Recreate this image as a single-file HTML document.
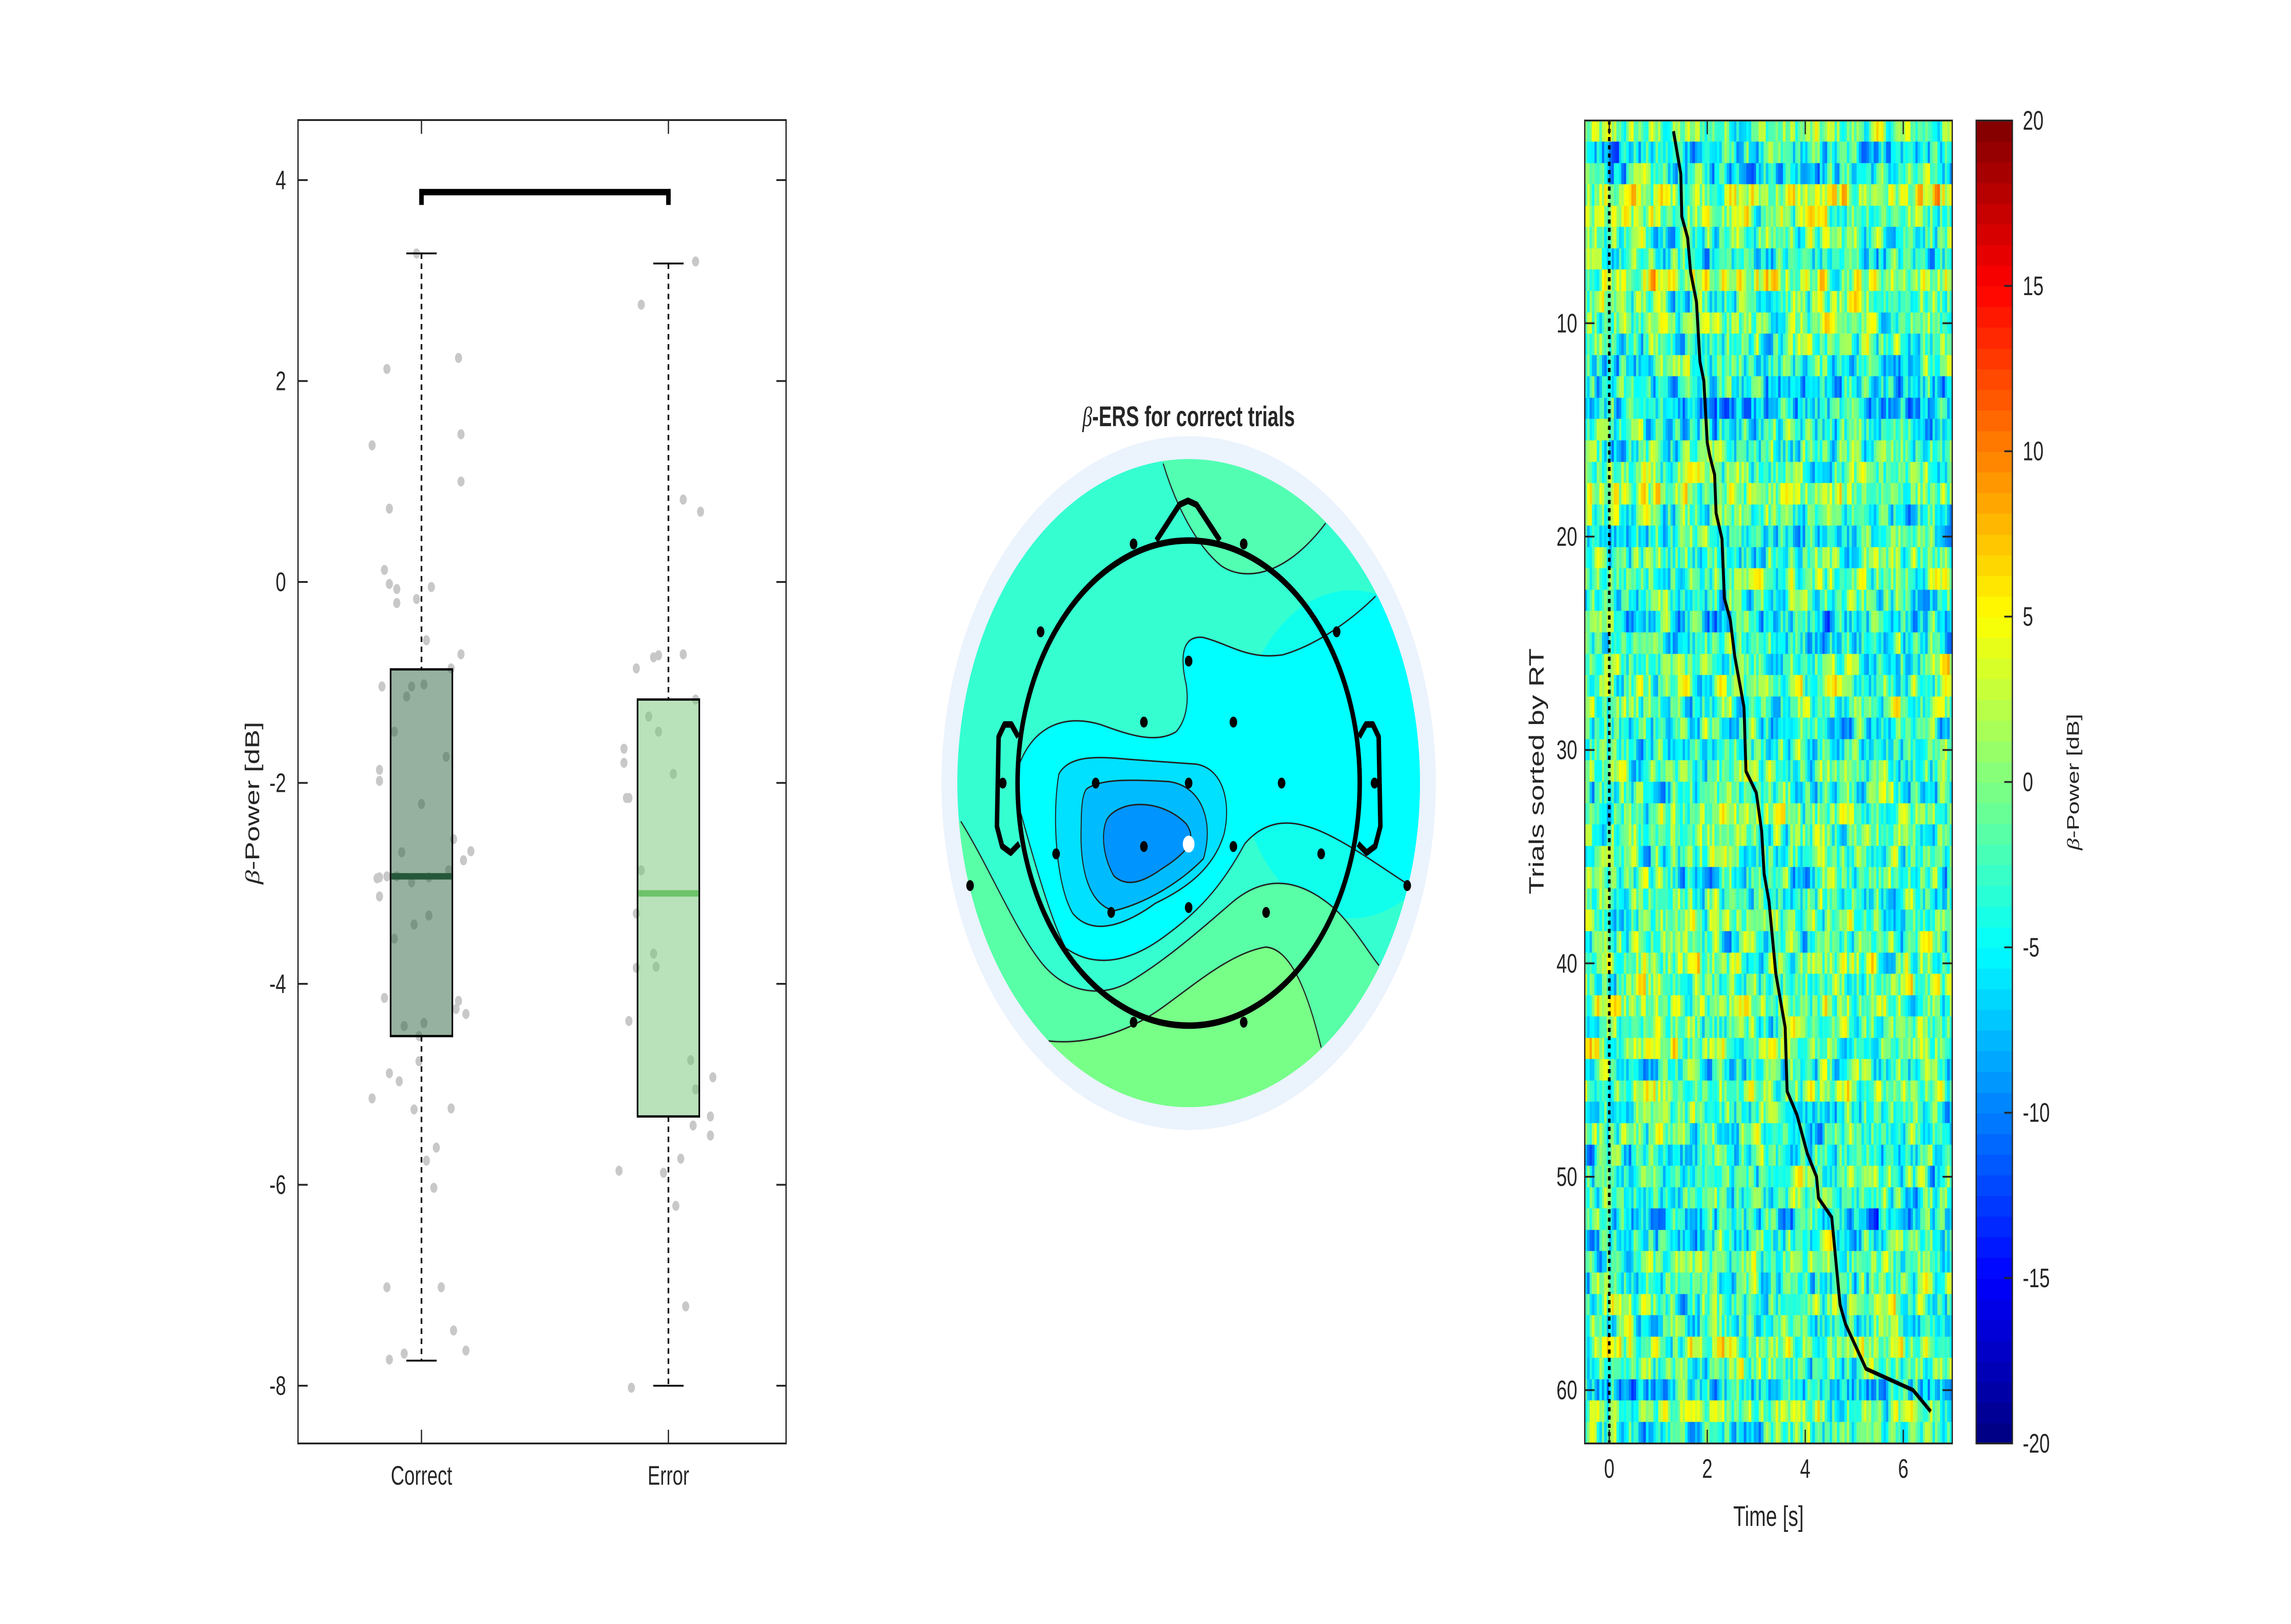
<!DOCTYPE html>
<html><head><meta charset="utf-8"><style>
html,body{margin:0;padding:0;background:#fff;width:100%;height:100%;overflow:hidden;}
#wrap{position:relative;width:100vw;height:100vh;overflow:hidden;background:#fff;}
canvas,svg{position:absolute;left:0;top:0;width:100%;height:100%;}
text{font-family:"Liberation Sans",sans-serif;fill:#262626;}
</style></head><body>
<div id="wrap">
<canvas id="heat" width="7088" height="3544"></canvas>
<svg id="fig" viewBox="0 0 7088 3544" preserveAspectRatio="none" xmlns="http://www.w3.org/2000/svg">
  <defs>
    <clipPath id="diskClip"><ellipse cx="777" cy="838" rx="672" ry="652"/></clipPath>
  </defs>
  <g id="box-panel"></g>
  <g id="topo" transform="translate(2850,800) scale(1.065,1.0846)">
    <ellipse cx="777" cy="838" rx="718" ry="698" fill="#ebf3fd"/>
    <g clip-path="url(#diskClip)">
      <rect x="0" y="0" width="1600" height="1700" fill="#35ffd0"/>
      <ellipse cx="1250" cy="780" rx="330" ry="330" fill="#10ffec"/>
      <path d="M703,195 C740,280 800,360 870,400 C930,430 1050,430 1175,315 L1500,100 L700,100 Z" fill="#52ffb2"/>
      <path d="M1320,462 C1250,510 1150,560 1050,580 C950,590 900,560 820,545 C760,540 750,580 770,640 C780,690 760,720 740,735 C680,760 600,740 520,720 C420,700 330,720 285,800 L290,900 C330,1000 380,1120 420,1170 C500,1210 600,1200 700,1150 C800,1100 870,1050 940,960 C990,920 1050,910 1120,925 C1200,940 1300,990 1410,1040 L1500,900 L1500,500 Z" fill="#00ffff"/>
      <path d="M400,820 C430,780 520,785 600,790 L800,800 C880,810 900,880 880,940 C850,1010 770,1050 680,1080 C600,1120 500,1150 440,1100 C390,1040 380,900 400,820Z" fill="#00e0ff"/>
      <path d="M480,850 C520,830 600,830 720,835 C820,845 850,920 820,990 C750,1040 650,1080 560,1095 C480,1080 460,1000 465,920 C465,880 470,860 480,850Z" fill="#00bcff"/>
      <path d="M540,910 C580,870 700,870 770,920 C800,950 780,975 700,1010 C650,1035 600,1050 560,1025 C530,990 520,940 540,910Z" fill="#0094ff"/>
      <path d="M115,915 C200,1010 270,1130 350,1200 C420,1260 520,1270 600,1240 C700,1200 800,1140 900,1080 C1000,1020 1100,1030 1200,1090 C1260,1130 1300,1180 1330,1205 L1500,1500 L0,1700 L0,900 Z" fill="#58ffa6"/>
      <path d="M370,1357 C480,1365 600,1340 700,1290 C800,1240 900,1180 1000,1168 C1070,1170 1120,1250 1162,1370 L1200,1700 L300,1700 Z" fill="#78ff88"/>
      <g fill="none" stroke="#222" stroke-width="3">
        <path d="M703,195 C740,280 800,360 870,400 C930,430 1050,430 1175,315"/>
        <path d="M1320,462 C1250,510 1150,560 1050,580 C950,590 900,560 820,545 C760,540 750,580 770,640 C780,690 760,720 740,735 C680,760 600,740 520,720 C420,700 330,720 285,800"/>
        <path d="M400,820 C430,780 520,785 600,790 L800,800 C880,810 900,880 880,940 C850,1010 770,1050 680,1080 C600,1120 500,1150 440,1100 C390,1040 380,900 400,820Z"/>
        <path d="M480,850 C520,830 600,830 720,835 C820,845 850,920 820,990 C750,1040 650,1080 560,1095 C480,1080 460,1000 465,920 C465,880 470,860 480,850Z"/>
        <path d="M540,910 C580,870 700,870 770,920 C800,950 780,975 700,1010 C650,1035 600,1050 560,1025 C530,990 520,940 540,910Z"/>
        <path d="M290,900 C330,1000 380,1120 420,1170 C500,1210 600,1200 700,1150 C800,1100 870,1050 940,960 C990,920 1050,910 1120,925 C1200,940 1300,990 1410,1040"/>
        <path d="M115,915 C200,1010 270,1130 350,1200 C420,1260 520,1270 600,1240 C700,1200 800,1140 900,1080 C1000,1020 1100,1030 1200,1090 C1260,1130 1300,1180 1330,1205"/>
        <path d="M370,1357 C480,1365 600,1340 700,1290 C800,1240 900,1180 1000,1168 C1070,1170 1120,1250 1162,1370"/>
      </g>
    </g>
    <g fill="none" stroke="#000" stroke-width="13" stroke-linejoin="round">
      <ellipse cx="777" cy="838" rx="497" ry="488"/>
      <path d="M683,350 L750,278 L775,270 L800,278 L868,350"/>
      <path d="M282,745 L262,720 L242,720 L225,745 L220,925 L235,965 L260,978 L285,960"/>
      <path d="M1272,745 L1292,720 L1312,720 L1329,745 L1334,925 L1319,965 L1294,978 L1269,960"/>
    </g>
    <g id="electrodes"></g>
    <text x="777" y="120" text-anchor="middle" font-size="57" font-weight="bold" fill="#000"><tspan font-family="Liberation Serif" font-style="italic" font-weight="normal">β</tspan>-ERS for correct trials</text>
  </g>
  <g id="heat-panel"></g>
</svg>
</div>
<script>
// ---------------- Box plot data ----------------
const categories = ["Correct", "Error"];
const boxQ1 = [-4.52, -5.32];
const boxQ3 = [-0.87, -1.17];
const boxMedian = [-2.93, -3.10];
const whiskerLow = [-7.75, -8.00];
const whiskerHigh = [3.27, 3.17];
const correctValues = [3.27,2.12,2.23,1.36,1.47,1.00,0.73,0.12,-0.02,-0.07,-0.21,-0.17,-0.05,-0.58,-0.86,-0.72,-1.04,-1.04,-1.02,-1.14,-1.49,-1.74,-1.87,-1.98,-2.21,-2.69,-2.56,-2.77,-2.68,-2.95,-2.94,-2.93,-2.93,-2.99,-2.94,-2.87,-3.13,-3.41,-3.32,-3.55,-4.14,-4.42,-4.39,-4.17,-4.25,-4.30,-4.52,-4.77,-4.89,-4.97,-5.14,-5.25,-5.24,-5.63,-5.76,-6.03,-7.02,-7.02,-7.45,-7.74,-7.68,-7.65];
const correctJitter = [-0.02,-0.14,0.15,-0.20,0.16,0.16,-0.13,-0.15,-0.13,-0.10,-0.10,-0.02,0.04,0.02,0.12,0.16,-0.16,-0.04,0.01,-0.06,-0.11,0.10,-0.17,-0.17,0.00,-0.08,0.13,0.17,0.20,-0.18,-0.17,-0.14,-0.10,-0.04,0.03,0.11,-0.17,-0.03,0.03,-0.11,-0.15,-0.07,0.01,0.15,0.14,0.18,-0.01,-0.01,-0.13,-0.09,-0.20,-0.03,0.12,0.06,0.02,0.05,-0.14,0.08,0.13,-0.13,-0.07,0.18];
const errorValues = [3.19,2.76,0.82,0.70,-0.86,-0.75,-0.73,-0.72,-1.17,-1.34,-1.49,-1.66,-1.80,-2.15,-2.15,-1.91,-2.87,-3.30,-3.70,-3.84,-3.83,-4.37,-4.76,-4.93,-5.05,-5.32,-5.41,-5.51,-5.74,-5.86,-5.88,-6.21,-7.21,-8.02];
const errorJitter = [0.11,-0.11,0.06,0.13,-0.13,-0.06,-0.04,0.06,0.11,-0.08,-0.04,-0.18,-0.18,-0.17,-0.16,0.02,-0.11,-0.13,-0.06,-0.13,-0.05,-0.16,0.09,0.18,0.11,0.17,0.10,0.17,0.05,-0.20,-0.02,0.03,0.07,-0.15];
const boxYTicks = [-8,-6,-4,-2,0,2,4];
const bracketLevel = 3.88;

// ---------------- Topoplot electrodes (head-radius units) ----------------
const elecX = [-0.32,0.32,-0.86,0.86,0,-0.26,0.26,-1.08,-0.54,0,0.54,1.08,-0.77,-0.26,0.26,0.77,-1.27,1.27,-0.45,0,0.45,-0.32,0.32,0];
const elecY = [-0.98,-0.98,-0.62,-0.62,-0.50,-0.25,-0.25,0,0,0,0,0,0.29,0.26,0.26,0.29,0.42,0.42,0.53,0.51,0.53,0.98,0.98,0.25];
const elecHighlight = [0,0,0,0,0,0,0,0,0,0,0,0,0,0,0,0,0,0,0,0,0,0,0,1];

// ---------------- Heatmap data ----------------
const trialCount = 62;
const timeStart = -0.5, timeEnd = 7.0, timeStep = 0.05;
const rowBias = [-1,-5,-4,2,0,-1,-4,2,-1,-1,-2,-3,-5,-6,-4,-3,-2,0,-3,-4,-2,-1,-3,-5,-4,-1,-1,-2,-3,-3,-2,-3,-1,-1,-2,-3,-2,-1,-3,0,-1,0,-2,1,-3,1,-3,-2,-4,-3,-3,-6,-3,-2,-3,-1,-2,0,-2,-6,0,-3];
const rtTrials = [1,3,5,6,7.6,9,11.8,12.7,15.6,16.2,17.1,18.9,20.1,22.9,23.9,25.6,28,31,32,33.8,35.8,37.1,40.5,43,46,47.1,48.9,50,51,51.9,56,56.9,59,60,61];
const rtTimes = [1.31,1.46,1.48,1.60,1.66,1.78,1.85,1.93,2.0,2.05,2.15,2.18,2.30,2.35,2.47,2.56,2.75,2.79,3.0,3.11,3.16,3.26,3.40,3.59,3.63,3.83,4.04,4.23,4.27,4.54,4.71,4.82,5.24,6.20,6.56];
const heatXTicks = [0,2,4,6];
const heatYTicks = [10,20,30,40,50,60];
const cbarTicks = [-20,-15,-10,-5,0,5,10,15,20];

// deterministic pseudo-noise for the (unreadable) per-cell texture
let seed = 12345;
function rnd(){ seed = (seed*1103515245 + 12345) % 2147483648; return seed/2147483648; }
const nCols = Math.round((timeEnd-timeStart)/timeStep);
const powerMatrix = [];
for (let r=0;r<trialCount;r++){ const row=[]; let prev=0;
  for (let c=0;c<nCols;c++){ prev = 0.55*prev + 0.45*((rnd()-0.5)*18); row.push(rowBias[r]+prev*1.3); }
  powerMatrix.push(row); }

const NS="http://www.w3.org/2000/svg";
function mk(tag, attrs, parent){ const e=document.createElementNS(NS,tag); for(const k in attrs) e.setAttribute(k,attrs[k]); parent.appendChild(e); return e; }

// ===== Box plot =====
const bp = document.getElementById('box-panel');
const AX={l:922,r:2432,t:262,b:3150};
const by = v => 393 + (4-v)*219.25;
const bx = c => 1304 + c*764;
const halfW = 0.125;
function dots(vals, jit, ci){
  for (let i=0;i<vals.length;i++){
    const d = mk('circle',{cx:bx(ci+jit[i]),cy:by(vals[i]),r:11,fill:'#c8c8c8'},bp);
    
    
  }
}
dots(correctValues, correctJitter, 0);
dots(errorValues, errorJitter, 1);
const boxFill=['rgba(46,100,65,0.5)','rgba(116,196,118,0.5)'];
const medCol=['#25583a','#6cc36a'];
for (let i=0;i<categories.length;i++){
  const cx=bx(i);
  let e=mk('line',{x1:cx,x2:cx,y1:by(whiskerHigh[i]),y2:by(boxQ3[i]),stroke:'#000','stroke-width':5,'stroke-dasharray':'12,10'},bp);
   
  e=mk('line',{x1:cx,x2:cx,y1:by(boxQ1[i]),y2:by(whiskerLow[i]),stroke:'#000','stroke-width':5,'stroke-dasharray':'12,10'},bp);
   
  for (const w of [whiskerHigh[i], whiskerLow[i]]){
    e=mk('line',{x1:cx-47,x2:cx+47,y1:by(w),y2:by(w),stroke:'#000','stroke-width':4},bp);
     
  }
  const x0=bx(i-halfW), x1=bx(i+halfW);
  e=mk('rect',{x:x0,y:by(boxQ3[i]),width:x1-x0,height:by(boxQ1[i])-by(boxQ3[i]),fill:boxFill[i],stroke:'#000','stroke-width':5},bp);
   
  e=mk('line',{x1:x0+3,x2:x1-3,y1:by(boxMedian[i]),y2:by(boxMedian[i]),stroke:medCol[i],'stroke-width':14},bp);
   
  const t=mk('text',{x:cx,y:3240,'text-anchor':'middle','font-size':58},bp); t.textContent=categories[i];
   
  mk('line',{x1:cx,x2:cx,y1:AX.b,y2:AX.b-30,stroke:'#262626','stroke-width':4},bp);
  mk('line',{x1:cx,x2:cx,y1:AX.t,y2:AX.t+30,stroke:'#262626','stroke-width':4},bp);
}
let br=mk('path',{d:`M${bx(0)},${by(bracketLevel)+28} L${bx(0)},${by(bracketLevel)} L${bx(1)},${by(bracketLevel)} L${bx(1)},${by(bracketLevel)+28}`,fill:'none',stroke:'#000','stroke-width':14},bp);
 
for (const v of boxYTicks){
  mk('line',{x1:AX.l,x2:AX.l+30,y1:by(v),y2:by(v),stroke:'#262626','stroke-width':4},bp);
  mk('line',{x1:AX.r,x2:AX.r-30,y1:by(v),y2:by(v),stroke:'#262626','stroke-width':4},bp);
  const t=mk('text',{x:885,y:by(v)+20,'text-anchor':'end','font-size':58},bp); t.textContent=String(v);
   
}
let ax=mk('rect',{x:AX.l,y:AX.t,width:AX.r-AX.l,height:AX.b-AX.t,fill:'none',stroke:'#262626','stroke-width':4},bp);
 
let yl=mk('text',{x:0,y:0,'text-anchor':'middle','font-size':62,transform:`translate(802,${by(-2.2)}) rotate(-90)`},bp);
yl.innerHTML='<tspan font-family="Liberation Serif" font-style="italic">β</tspan>-Power [dB]';
 

// ===== Electrodes =====
const eg=document.getElementById('electrodes');
for (let i=0;i<elecX.length;i++){
  const c=mk('circle',{cx:777+elecX[i]*500,cy:838+elecY[i]*491,r:elecHighlight[i]?17:11,fill:elecHighlight[i]?'#fff':'#000'},eg);
   
}

// ===== Heatmap =====
const HX={l:4903,r:6040,t:263,b:3150};
const hx = t => HX.l + (t-timeStart)/(timeEnd-timeStart)*(HX.r-HX.l);
const hy = tr => HX.t + (tr-0.5)/trialCount*(HX.b-HX.t);
function jet(v){ // v in [-20,20]
  let t=(v+20)/40; t=Math.max(0,Math.min(1,t));
  const f=x=>Math.max(0,Math.min(1,x));
  const r=f(Math.min(4*t-1.5,-4*t+4.5)), g=f(Math.min(4*t-0.5,-4*t+3.5)), b=f(Math.min(4*t+0.5,-4*t+2.5));
  return `rgb(${Math.round(r*255)},${Math.round(g*255)},${Math.round(b*255)})`;
}
const ctx=document.getElementById('heat').getContext('2d');
for (let r=0;r<trialCount;r++){
  for (let c=0;c<nCols;c++){
    const t0=timeStart+c*timeStep;
    const x0=hx(t0), x1=hx(t0+timeStep);
    ctx.fillStyle=jet(powerMatrix[r][c]);
    ctx.fillRect(Math.floor(x0),Math.floor(hy(r+0.5)),Math.ceil(x1-x0)+1,Math.ceil(hy(r+1.5)-hy(r+0.5))+1);
  }
}
// colorbar
const CB={l:6114,r:6226};
for (let i=0;i<64;i++){
  const v0=-20+i*40/64;
  const yA=HX.b-(i+1)/64*(HX.b-HX.t), yB=HX.b-i/64*(HX.b-HX.t);
  ctx.fillStyle=jet(v0+40/128); ctx.fillRect(CB.l,Math.floor(yA),CB.r-CB.l,Math.ceil(yB-yA)+1);
}
const hp=document.getElementById('heat-panel');
let z=mk('line',{x1:hx(0),x2:hx(0),y1:HX.t,y2:HX.b,stroke:'#000','stroke-width':8,'stroke-dasharray':'9,9'},hp);
 
let rtp=''; for (let i=0;i<rtTrials.length;i++) rtp+=(i?'L':'M')+hx(rtTimes[i])+','+hy(rtTrials[i]);
let rl=mk('path',{d:rtp,fill:'none',stroke:'#000','stroke-width':9,'stroke-linejoin':'round'},hp);
 
for (const t of heatXTicks){
  mk('line',{x1:hx(t),x2:hx(t),y1:HX.b,y2:HX.b-30,stroke:'#262626','stroke-width':4},hp);
  mk('line',{x1:hx(t),x2:hx(t),y1:HX.t,y2:HX.t+30,stroke:'#262626','stroke-width':4},hp);
  const tx=mk('text',{x:hx(t),y:3225,'text-anchor':'middle','font-size':58},hp); tx.textContent=String(t);
   
}
for (const tr of heatYTicks){
  mk('line',{x1:HX.l,x2:HX.l+30,y1:hy(tr),y2:hy(tr),stroke:'#262626','stroke-width':4},hp);
  mk('line',{x1:HX.r,x2:HX.r-30,y1:hy(tr),y2:hy(tr),stroke:'#262626','stroke-width':4},hp);
  const tx=mk('text',{x:4880,y:hy(tr)+20,'text-anchor':'end','font-size':58},hp); tx.textContent=String(tr);
   
}
let ha=mk('rect',{x:HX.l,y:HX.t,width:HX.r-HX.l,height:HX.b-HX.t,fill:'none',stroke:'#262626','stroke-width':4},hp);
 
let xl=mk('text',{x:(HX.l+HX.r)/2,y:3330,'text-anchor':'middle','font-size':62},hp); xl.textContent='Time [s]';
 
let hyl=mk('text',{x:0,y:0,'text-anchor':'middle','font-size':64,transform:`translate(4776,${hy(31)}) rotate(-90)`},hp); hyl.textContent='Trials sorted by RT';
 
const cy = v => HX.b-(v+20)/40*(HX.b-HX.t);
for (const v of cbarTicks){
  mk('line',{x1:CB.r,x2:CB.r-25,y1:cy(v),y2:cy(v),stroke:'#262626','stroke-width':4},hp);
  const tx=mk('text',{x:6258,y:cy(v)+20,'font-size':58},hp); tx.textContent=String(v);
   
}
let cbr=mk('rect',{x:CB.l,y:HX.t,width:CB.r-CB.l,height:HX.b-HX.t,fill:'none',stroke:'#262626','stroke-width':4},hp);
 
let cbl=mk('text',{x:0,y:0,'text-anchor':'middle','font-size':52,fill:'#444',transform:`translate(6432,${cy(0)}) rotate(-90)`},hp);
cbl.innerHTML='<tspan font-family="Liberation Serif" font-style="italic">β</tspan>-Power [dB]';
 
</script>
</body></html>
